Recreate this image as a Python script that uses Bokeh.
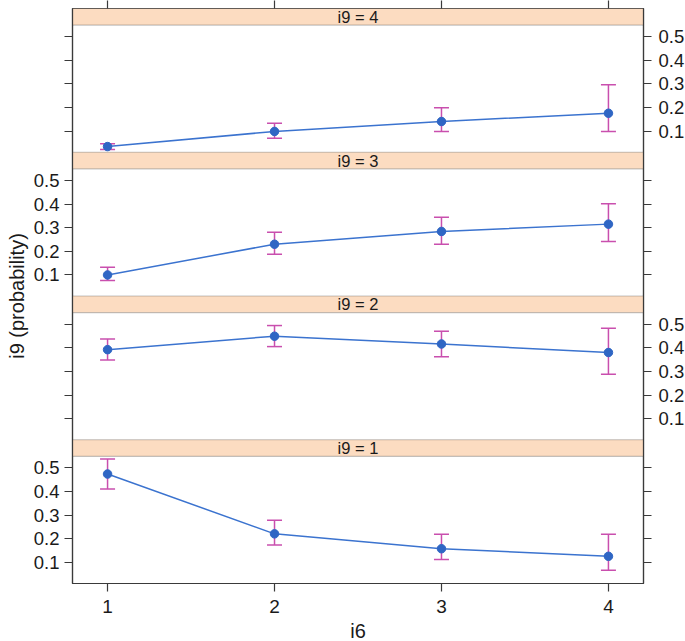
from bokeh.plotting import figure
from bokeh.models import (ColumnDataSource, FixedTicker, LinearAxis, BoxAnnotation,
                          Label, Whisker, TeeHead)
from bokeh.embed import file_html
from bokeh.resources import INLINE

# ---- data ----
i6 = [1, 2, 3, 4]
levels = ["1", "2", "3", "4"]   # i9 levels, bottom panel first
prob_1 = [0.474, 0.221, 0.158, 0.126]
lower_1 = [0.411, 0.174, 0.113, 0.067]
upper_1 = [0.538, 0.279, 0.219, 0.219]
prob_2 = [0.392, 0.449, 0.416, 0.380]
lower_2 = [0.348, 0.405, 0.362, 0.288]
upper_2 = [0.437, 0.494, 0.470, 0.483]
prob_3 = [0.100, 0.230, 0.284, 0.315]
lower_3 = [0.077, 0.188, 0.230, 0.241]
upper_3 = [0.133, 0.281, 0.344, 0.401]
prob_4 = [0.035, 0.099, 0.141, 0.176]
lower_4 = [0.023, 0.070, 0.099, 0.099]
upper_4 = [0.047, 0.134, 0.199, 0.297]
y_ticks = [0.1, 0.2, 0.3, 0.4, 0.5]
y_tick_labels = ["0.1", "0.2", "0.3", "0.4", "0.5"]

probs = [prob_1, prob_2, prob_3, prob_4]
lowers = [lower_1, lower_2, lower_3, lower_4]
uppers = [upper_1, upper_2, upper_3, upper_4]

# ---- panel geometry (in probability units) ----
YLO, YHI = 0.011, 0.549
STRIP = 0.070
BAND = (YHI - YLO) + STRIP

FONT = "Liberation Sans"
TXT = "#1a1a1a"
FRAME = "#3a3a3a"
LINE_C = "#3b73cf"
PT_C = "#2f66c4"
ERR_C = "#c94fae"
STRIP_C = "#fcdcc1"

p = figure(x_range=(0.79, 4.21), y_range=(0, 4 * BAND),
           frame_width=571, frame_height=575,
           min_border_left=72, min_border_right=42, min_border_top=8, min_border_bottom=58,
           output_backend="svg", toolbar_location=None)
p.grid.visible = False
p.outline_line_color = FRAME
p.outline_line_width = 1.2
p.background_fill_color = "white"
p.border_fill_color = "white"

def shift(k):
    return k * BAND - YLO

# strips
for k, lev in enumerate(levels):
    box = BoxAnnotation(bottom=k * BAND + (YHI - YLO), top=(k + 1) * BAND,
                        fill_color=STRIP_C, fill_alpha=1.0,
                        line_color=FRAME, line_width=1.2, level="underlay")
    p.add_layout(box)
    p.add_layout(Label(x=sum(i6) / len(i6), y=k * BAND + (YHI - YLO) + STRIP / 2,
                       text="i9 = " + lev, text_align="center", text_baseline="middle",
                       text_font=FONT, text_font_size="16.5px", text_color=TXT))

# data per panel
for k in range(4):
    s = shift(k)
    src = ColumnDataSource(dict(
        x=i6,
        y=[v + s for v in probs[k]],
        lo=[v + s for v in lowers[k]],
        hi=[v + s for v in uppers[k]],
    ))
    p.line("x", "y", source=src, line_color=LINE_C, line_width=1.5)
    w = Whisker(base="x", lower="lo", upper="hi", source=src,
                line_color=ERR_C, line_width=1.5,
                upper_head=TeeHead(size=15, line_color=ERR_C, line_width=1.5),
                lower_head=TeeHead(size=15, line_color=ERR_C, line_width=1.5))
    p.add_layout(w)
    p.scatter("x", "y", source=src, size=8.5, fill_color=PT_C, line_color=PT_C)

# y ticks
tick_pos = []
left_over = {}
right_over = {}
for k in range(4):
    for t, lab in zip(y_ticks, y_tick_labels):
        pos = round(t + shift(k), 6)
        tick_pos.append(pos)
        if k in (0, 2):
            left_over[pos] = lab
            right_over[pos] = ""
        else:
            left_over[pos] = ""
            right_over[pos] = lab

def style_axis(ax):
    ax.axis_line_color = FRAME
    ax.axis_line_width = 1.2
    ax.major_tick_line_color = FRAME
    ax.major_tick_line_width = 1.2
    ax.major_tick_in = 0
    ax.major_tick_out = 8
    ax.minor_tick_line_color = None
    ax.major_label_text_font = FONT
    ax.major_label_text_font_size = "18.5px"
    ax.major_label_text_color = TXT
    ax.axis_label_text_font = FONT
    ax.axis_label_text_font_size = "20px"
    ax.axis_label_text_font_style = "normal"
    ax.axis_label_text_color = TXT

yl = p.yaxis[0]
yl.ticker = FixedTicker(ticks=tick_pos)
yl.major_label_overrides = left_over
yl.axis_label = "i9 (probability)"
yl.axis_label_standoff = 3
yl.major_label_standoff = 5
style_axis(yl)

yr = LinearAxis(ticker=FixedTicker(ticks=tick_pos), major_label_overrides=right_over)
style_axis(yr)
yr.major_label_standoff = 7
p.add_layout(yr, "right")

xb = p.xaxis[0]
xb.ticker = FixedTicker(ticks=i6)
xb.axis_label = "i6"
xb.major_label_standoff = 8
xb.axis_label_standoff = 4
style_axis(xb)
xb.major_label_text_font_size = "19px"

# top axis: ticks only, above the top strip
xt = LinearAxis(ticker=FixedTicker(ticks=i6),
                major_label_overrides={t: "" for t in i6})
style_axis(xt)
xt.major_label_text_font_size = "2px"
xt.major_label_standoff = 0
xt.axis_line_color = None
p.add_layout(xt, "above")

open("out.html", "w").write(file_html(p, INLINE))
